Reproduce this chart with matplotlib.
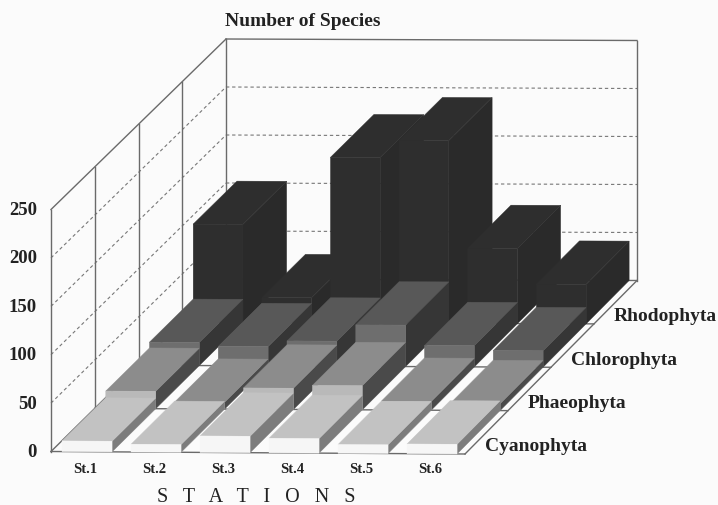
import numpy as np
import matplotlib
matplotlib.use("Agg")
import matplotlib.pyplot as plt

plt.rcParams["font.family"] = ["Liberation Serif", "DejaVu Serif"]

stations = ["St.1", "St.2", "St.3", "St.4", "St.5", "St.6"]
groups = ["Cyanophyta", "Phaeophyta", "Chlorophyta", "Rhodophyta"]
yticks = [0, 50, 100, 150, 200, 250]

cyanophyta = [11, 8, 17, 15, 9, 10]
phaeophyta = [18, 7, 22, 25, 9, 7]
chlorophyta = [24, 20, 26, 43, 22, 17]
rhodophyta = [102, 26, 172, 190, 78, 41]
values = [cyanophyta, phaeophyta, chlorophyta, rhodophyta]

# front, top, side
colors = [("#f6f6f6", "#c2c2c2", "#7c7c7c"),
          ("#b9b9b9", "#8c8c8c", "#4a4a4a"),
          ("#6e6e6e", "#585858", "#363636"),
          ("#2e2e2e", "#2e2e2e", "#2a2a2a")]

BG = "#fbfbfb"
LINE = "#6a6a6a"
ZMAX = 250.0


def proj(u, d, z):
    # u along stations 0-6, d along groups 0-4, z species count -> figure pixels
    a, b = u / 6.0, d / 4.0
    x = 51 + 414 * a + (175 - 3 * a) * b
    y0 = 452.5 + 2.5 * a - (172.5 + 1.0 * a) * b
    return x, y0 - (242 - 2 * b) * z / ZMAX


def face(ax, pts, color, zorder=3):
    xy = np.array([proj(*p) for p in pts])
    ax.fill(xy[:, 0], xy[:, 1], color=color, lw=0.3, zorder=zorder)


def line(ax, p, q, **kw):
    a, b = proj(*p), proj(*q)
    ax.plot([a[0], b[0]], [a[1], b[1]], **kw)


fig = plt.figure(figsize=(7.18, 5.06), dpi=100, facecolor=BG)
ax = fig.add_axes([0, 0, 1, 1])
ax.set_xlim(0, 718)
ax.set_ylim(506, 0)
ax.axis("off")

solid = dict(color=LINE, lw=1.0, zorder=2)
dash = dict(color="#777777", lw=0.8, ls=(0, (3, 2.5)), zorder=1)

# walls and floor
for d in range(0, 5):
    line(ax, (0, d, 0), (0, d, ZMAX), **solid)
    if 0 < d < 4:
        line(ax, (0, d, 0), (6, d, 0), **solid)
line(ax, (0, 0, 0), (6, 0, 0), **solid)
line(ax, (0, 4, 0), (6, 4, 0), **solid)
line(ax, (6, 0, 0), (6, 4, 0), **solid)
line(ax, (0, 0, 0), (0, 4, 0), **solid)
line(ax, (0, 0, ZMAX), (0, 4, ZMAX), **solid)
line(ax, (0, 4, ZMAX), (6, 4, ZMAX), **solid)
line(ax, (6, 4, 0), (6, 4, ZMAX), **solid)
for t in yticks[1:-1]:
    line(ax, (0, 0, t), (0, 4, t), **dash)
    line(ax, (0, 4, t), (6, 4, t), **dash)

# bars, back row first, left to right
left, right = 0.16, 0.885
for d in range(3, -1, -1):
    front, top, side = colors[d]
    for i, v in enumerate(values[d]):
        u0, u1 = i + left, i + right
        face(ax, [(u1, d, 0), (u1, d + 1, 0), (u1, d + 1, v), (u1, d, v)], side)
        face(ax, [(u0, d, v), (u1, d, v), (u1, d + 1, v), (u0, d + 1, v)], top)
        face(ax, [(u0, d, 0), (u1, d, 0), (u1, d, v), (u0, d, v)], front)

# labels
for t in yticks:
    x, y = proj(0, 0, t)
    ax.text(37, y, str(t), ha="right", va="center", fontsize=13.5, fontweight="bold", color="#222222")
for i, s in enumerate(stations):
    x, y = proj(i + 0.5, 0, 0)
    ax.text(x, 470, s, ha="center", va="center", fontsize=10.5, fontweight="bold", color="#222222")
for d, g in enumerate(groups):
    x, y = proj(6, d, 0)
    ax.text(x + 20, y - 8, g, ha="left", va="center", fontsize=14, fontweight="bold", color="#222222")

ax.text(225, 21, "Number of Species", ha="left", va="center", fontsize=14, fontweight="bold", color="#222222")
ax.text(157, 498, "S   T   A   T   I   O   N   S", ha="left", va="center", fontsize=14.5, color="#222222")

fig.savefig("out.png", dpi=100, facecolor=BG)
